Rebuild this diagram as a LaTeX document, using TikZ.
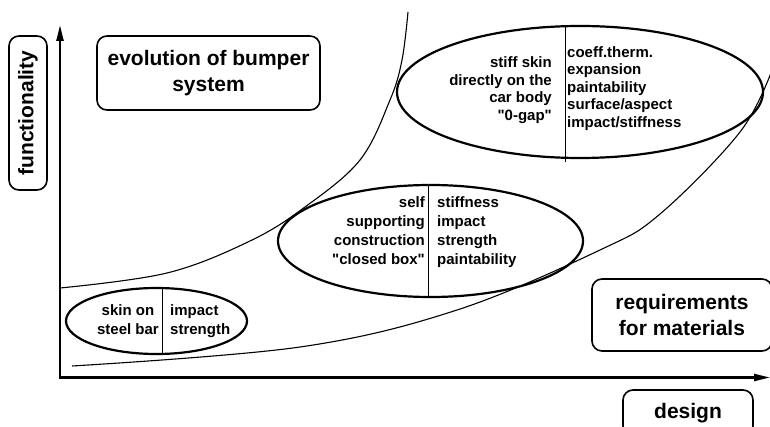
\documentclass[tikz,border=0pt]{standalone}
\usepackage{fontspec}
\setmainfont{Liberation Sans}[Ligatures=TeXOff]
\usetikzlibrary{shapes.geometric,arrows.meta}
\begin{document}
\begin{tikzpicture}[x=1pt,y=-1pt,
  rbox/.style={draw, line width=1.6pt, rounded corners=10pt, inner sep=0pt},
  ell/.style={draw, ellipse, line width=2.2pt, inner sep=0pt},
  txtA/.style={font=\bfseries\fontsize{15}{17.5}\selectfont, inner sep=0pt},
  txtB/.style={font=\bfseries\fontsize{15}{19}\selectfont, inner sep=0pt},
  bigtxt/.style={font=\bfseries\fontsize{21}{26}\selectfont},
  axis/.style={line width=2.4pt, -{Triangle[length=16pt,width=7pt]}},
  curve/.style={line width=1.1pt},
  divider/.style={line width=1pt}]
\useasboundingbox (0,0) rectangle (770,427);

% axes
\coordinate (O) at (60,377.5);
\coordinate (ytip) at (60,25);
\coordinate (xtip) at (770,377.5);
\draw[axis] (O) -- (ytip);
\draw[axis] (58.8,377.5) -- (xtip);

% curves
\draw[curve] plot[smooth, tension=0.6] coordinates {(60,288) (167,273) (250,241) (305,207) (360,160) (390,100) (402,60) (408,12)};
\draw[curve] plot[smooth, tension=0.6] coordinates {(72,366) (300,347) (457,310) (600,250) (660,214) (740,132) (772,70)};

% labelled boxes
\node[rbox, bigtxt, rotate=90, minimum width=154pt, minimum height=38pt] (func) at (28,113) {functionality};
\node[rbox, bigtxt, align=center, minimum width=223pt, minimum height=74pt] (evo) at (208.5,73) {evolution of bumper\\system};
\node[rbox, bigtxt, align=center, minimum width=180pt, minimum height=72pt] (req) at (682,315) {requirements\\for materials};
\node[rbox, bigtxt, minimum width=130pt, minimum height=46pt] (design) at (688,413) {design};

% ellipses
\node[ell, minimum width=181pt, minimum height=66pt] (e1) at (156.5,321) {};
\node[ell, minimum width=305pt, minimum height=112pt] (e2) at (430.5,241) {};
\node[ell, minimum width=366pt, minimum height=132pt] (e3) at (580,92) {};

% dividers
\draw[divider] (162,288) -- (162,354);
\draw[divider] (428,185) -- (428,297);
\draw[divider] (565,27) -- (565,162);

% ellipse texts (base anchor = baseline of last line)
\node[txtB, align=center, anchor=base] (t1l) at (128,334) {skin on\\steel bar};
\node[txtB, align=left, anchor=base west] (t1r) at (170,334) {impact\\strength};
\node[txtB, align=right, anchor=base east] (t2l) at (425,265) {self\\supporting\\construction\\"closed box"};
\node[txtB, align=left, anchor=base west] (t2r) at (437,265) {stiffness\\impact\\strength\\paintability};
\node[txtA, align=right, anchor=base east] (t3l) at (552,120.5) {stiff skin\\directly on the\\car body\\"0-gap"};
\node[txtA, align=left, anchor=base west] (t3r) at (567,127.5) {coeff.therm.\\expansion\\paintability\\surface/aspect\\impact/stiffness};
\end{tikzpicture}
\end{document}
